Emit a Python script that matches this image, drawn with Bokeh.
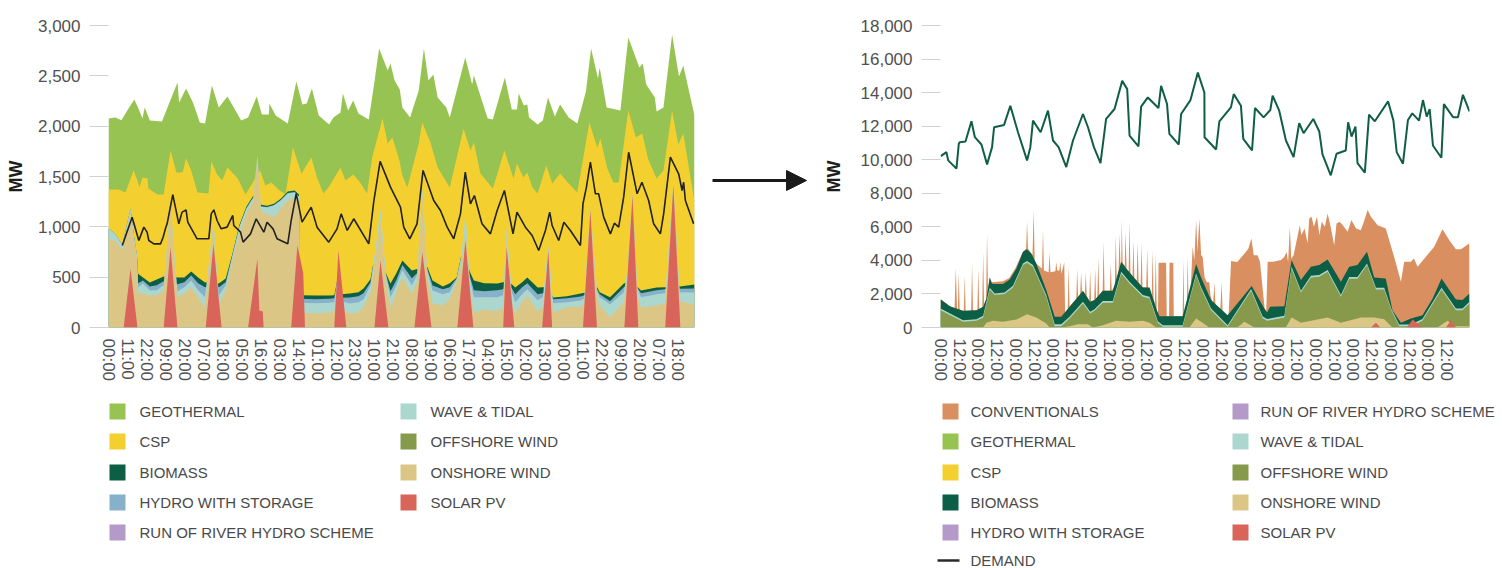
from bokeh.plotting import figure
from bokeh.layouts import row, column
from bokeh.models import Range1d, FixedTicker, NumeralTickFormatter, Arrow, NormalHead
from bokeh.embed import file_html
from bokeh.resources import INLINE
from bokeh.core.properties import value

FONT = "Liberation Sans"

C_CONV = "#d98f5f"
C_GEO = "#97c353"
C_CSP = "#f4cf30"
C_BIO = "#0c5f44"
C_HYDRO = "#87b0ca"
C_ROR = "#b39ac9"
C_WAVE = "#acd7cf"
C_OFF = "#879a4c"
C_ON = "#dcc686"
C_SOLAR = "#d9645a"

# ---------------- LEFT CHART DATA (x = hour index, values = MW, stacked tops) ----------------
left_tick_labels = ["00:00", "11:00", "22:00", "09:00", "20:00", "07:00", "18:00", "05:00",
                    "16:00", "03:00", "14:00", "01:00", "12:00", "23:00", "10:00", "21:00",
                    "08:00", "19:00", "06:00", "17:00", "04:00", "15:00", "02:00", "13:00",
                    "00:00", "11:00", "22:00", "09:00", "20:00", "07:00", "18:00"]

geo_x = [0, 4, 7.5, 11.6, 15, 18, 19.7, 21, 23, 24,
         31, 40, 41, 45, 49, 53, 56, 60, 64, 69,
         77, 81, 86, 89, 93, 93.4, 97, 104, 109, 112.5,
         115, 118, 122, 128, 130.5, 134.6, 136, 139, 142, 145,
         151, 154, 157, 162, 163.6, 166, 169, 170.5, 175, 180,
         183, 185.6, 188.5, 191, 196, 198, 207, 211, 212, 220,
         223, 230, 234, 237, 238, 241, 243, 244, 249, 252,
         255, 259, 262, 267, 272, 277, 280, 284, 285, 289,
         297, 301.6, 308, 310, 312, 317, 318, 322, 327, 331,
         333.5, 340]
geothermal_top_l = [2076, 2086, 2060, 2175, 2265, 2150, 2076, 2185, 2100, 2056,
                    2046, 2434, 2235, 2374, 2235, 2036, 2026, 2404, 2185, 2295,
                    2056, 2086, 2295, 2116, 2116, 2225, 2106, 2026, 2444, 2215,
                    2225, 2374, 2106, 2016, 2086, 2135, 2325, 2156, 2255, 2126,
                    2066, 2404, 2772, 2553, 2623, 2454, 2364, 2185, 2086, 2354,
                    2772, 2454, 2513, 2285, 2185, 2086, 2682, 2414, 2503, 2076,
                    2066, 2483, 2165, 2165, 2325, 2205, 2215, 2086, 2016, 2056,
                    2285, 2096, 2215, 2086, 2026, 2344, 2772, 2473, 2583, 2185,
                    2156, 2881, 2583, 2623, 2414, 2285, 2146, 2185, 2911, 2494,
                    2603, 2106]

csp_x = [0, 5.8, 9.9, 14.5, 16.8, 18, 19.7, 22.6, 23.2, 28.4,
         32, 36, 39.4, 43, 45, 48, 51.6, 58, 59.7, 63,
         66, 69, 75, 79.5, 88, 91, 94.5, 98.6, 102.7, 107,
         112, 117.7, 121, 124.7, 127.6, 134.6, 137.5, 142, 146, 150,
         153, 159, 162, 164.7, 168.8, 170.5, 173.4, 180, 182, 186.8,
         191, 198, 206, 210, 212, 215.8, 223, 229.7, 235, 237,
         240.7, 243, 246, 249, 254, 257.5, 262, 267, 272, 279,
         283.6, 285.4, 289.4, 293, 296, 301.6, 306, 309.7, 313, 318,
         322, 327, 330.6, 333.5, 340]
csp_top_l = [1371, 1371, 1341, 1560, 1460, 1390, 1490, 1480, 1380, 1321,
             1321, 1758, 1540, 1540, 1679, 1560, 1341, 1331, 1649, 1520,
             1460, 1589, 1480, 1321, 1560, 1410, 1440, 1371, 1321, 1788,
             1530, 1689, 1490, 1331, 1390, 1589, 1460, 1520, 1440, 1331,
             1689, 2076, 1828, 1888, 1659, 1510, 1391, 1828, 2036, 1838,
             1589, 1391, 1977, 1758, 1838, 1530, 1381, 1758, 1480, 1629,
             1490, 1540, 1391, 1331, 1609, 1430, 1530, 1430, 1341, 2036,
             1788, 1878, 1579, 1440, 1440, 2156, 1888, 1927, 1679, 1480,
             1560, 2156, 1818, 1927, 1250]

low_x = [0, 4, 8, 12.8, 15, 16.5, 17.2, 20, 24, 28,
         32, 36, 40, 44, 48, 52, 56, 60.9, 64, 68,
         72, 76, 80, 84, 86.4, 88.5, 92, 96, 100, 104,
         108, 110.5, 111.5, 120, 128, 131, 132.5, 135, 140, 145,
         148, 152, 153.5, 157.8, 161, 163.6, 167, 170.5, 176, 179,
         182.1, 185, 188, 194, 198, 202, 204.5, 207.1, 209.5, 212,
         218, 225.6, 229, 231, 234, 236, 240, 243, 249, 252,
         255.2, 258, 266, 274, 276, 279.6, 283.5, 285, 291, 299,
         301, 304, 307, 309, 318, 323, 327.7, 331.5, 340]
biomass_top_l = [983, 930, 820, 1180, 880, 720, 535, 497, 447, 477,
                 507, 520, 497, 497, 556, 497, 447, 455, 437, 487,
                 740, 1020, 1200, 1310, 1310, 1220, 1210, 1230, 1280, 1350,
                 1360, 1320, 320, 318, 318, 320, 450, 330, 338, 350,
                 387, 480, 620, 660, 540, 437, 540, 665, 566, 580,
                 590, 600, 467, 407, 440, 497, 700, 760, 560, 467,
                 440, 437, 450, 470, 430, 397, 450, 497, 397, 400,
                 400, 298, 310, 338, 345, 350, 400, 351, 301, 437,
                 450, 440, 400, 367, 397, 400, 405, 407, 427]
hydro_top_l = [983, 930, 820, 1180, 880, 720, 440, 467, 407, 420,
               460, 480, 430, 450, 517, 440, 400, 420, 400, 450,
               725, 1005, 1185, 1295, 1295, 1205, 1197, 1217, 1266, 1336,
               1345, 1305, 285, 280, 285, 290, 445, 295, 298, 310,
               340, 450, 610, 650, 530, 360, 470, 620, 490, 540,
               560, 580, 417, 380, 400, 490, 690, 750, 520, 370,
               360, 370, 380, 420, 390, 330, 400, 440, 330, 340,
               360, 280, 290, 308, 320, 340, 380, 330, 260, 400,
               420, 420, 390, 340, 370, 380, 390, 385, 388]
wave_top_l = [983, 930, 820, 1180, 880, 720, 400, 437, 367, 370,
              420, 1230, 360, 400, 467, 370, 300, 1060, 320, 420,
              715, 1000, 1180, 1290, 1710, 1200, 1192, 1212, 1261, 1331,
              1340, 1300, 245, 240, 245, 250, 440, 260, 238, 250,
              280, 420, 600, 1182, 520, 300, 420, 570, 420, 520,
              1391, 560, 367, 330, 350, 480, 680, 1142, 500, 300,
              300, 300, 320, 993, 350, 250, 330, 380, 270, 300,
              815, 240, 250, 268, 290, 1182, 360, 300, 230, 350,
              560, 1331, 380, 300, 330, 340, 1430, 350, 348]
onshore_top_l = [884, 860, 770, 1130, 850, 700, 340, 338, 318, 318,
                 367, 1200, 298, 338, 397, 298, 199, 1000, 219, 367,
                 665, 934, 1132, 1250, 1690, 1150, 1132, 1093, 1182, 1261,
                 1290, 1250, 150, 140, 150, 160, 360, 180, 139, 150,
                 200, 350, 536, 1063, 450, 199, 350, 497, 338, 450,
                 1331, 500, 238, 218, 280, 467, 600, 963, 400, 149,
                 180, 159, 200, 894, 250, 139, 250, 318, 159, 200,
                 685, 149, 200, 208, 230, 1170, 300, 220, 103, 250,
                 500, 1290, 300, 199, 218, 240, 1400, 260, 228]

solar_x_l = [0, 8.8, 12.8, 16.8, 32, 36, 40, 56.4, 60.9, 65.6,
             81, 86.4, 87.5, 89.5, 90, 106, 109.6, 113, 114, 131,
             133.4, 138, 154.3, 157.8, 162.4, 177.5, 182.1, 187.4, 202.4, 207.1,
             211.7, 229, 231, 235.5, 251.6, 255.2, 257.4, 275.3, 279.6, 283.4,
             299.3, 304, 307.4, 323, 327.7, 331.8, 340]
solar_l = [0, 0, 583, 0, 0, 798, 0, 0, 831, 0,
           0, 685, 170, 160, 0, 0, 815, 540, 0, 0,
           765, 0, 0, 665, 0, 0, 748, 0, 0, 864,
           0, 0, 798, 0, 0, 765, 0, 0, 1162, 0,
           0, 1311, 0, 0, 1411, 0, 0]

demand_x_l = [8, 13.7, 17.6, 20.5, 22.4, 23.4, 26.3, 30.2, 31.7, 33,
              34, 37.3, 40.8, 42.7, 45, 46, 51.4, 58.2, 59.6, 61.1,
              63, 65.4, 68.8, 72.1, 72.7, 76.6, 78.1, 82.4, 85.7, 90.1,
              92, 95.5, 97.8, 104, 106, 108.9, 112.3, 117.6, 121, 127.8,
              132.6, 135, 138.5, 142.3, 151, 153.9, 157.6, 163.6, 169.4, 171.3,
              174.8, 179, 182.5, 188.7, 192.6, 196.5, 200.3, 204.2, 207, 210,
              212.3, 216.7, 221.6, 225.5, 229.7, 234.7, 237, 241.9, 245.8, 249.6,
              253.5, 256, 257.4, 261.2, 264.2, 268, 273.8, 275.3, 277.3, 279.6,
              282.5, 284.4, 287.3, 291.2, 293.5, 296, 298.9, 301.8, 306.7, 309.5,
              313.4, 316.3, 320.2, 322.1, 326, 330.8, 332.8, 333.7, 334.7, 339.5]
demand_l = [815, 1096, 864, 997, 947, 864, 831, 831, 897, 980,
            1030, 1320, 1030, 1146, 1169, 1046, 881, 881, 1129, 1169,
            1063, 980, 997, 1113, 1013, 947, 848, 930, 1080, 947,
            1046, 980, 881, 831, 1063, 1330, 1046, 1195, 997, 848,
            980, 1129, 964, 1080, 831, 1250, 1650, 1394, 1195, 997,
            881, 1030, 1560, 1262, 1162, 997, 881, 1129, 1543, 1229,
            1311, 1030, 930, 1162, 1361, 930, 1146, 997, 914, 765,
            964, 1146, 1013, 864, 1046, 964, 815, 1229, 1394, 1642,
            1328, 1328, 1096, 930, 1036, 997, 1295, 1741, 1328, 1443,
            1262, 1030, 930, 1129, 1692, 1527, 1361, 1443, 1262, 1030]

# ---------------- RIGHT CHART DATA (x = hours, values = MW, stacked tops) ----------------
right_tick_labels = ["00:00", "12:00", "00:00", "12:00", "00:00", "12:00", "00:00",
                     "12:00", "00:00", "12:00", "00:00", "12:00", "00:00", "12:00",
                     "00:00", "12:00", "00:00", "12:00", "00:00", "12:00", "00:00",
                     "12:00", "00:00", "12:00", "00:00", "12:00", "00:00", "12:00"]

conv_x = [0, 6, 9, 9.8, 10.6, 11.1, 11.7, 12.3, 14.9, 15.5,
          16.1, 19.6, 20.2, 20.8, 23.6, 24.2, 24.8, 26.7, 27.3, 27.9,
          29.2, 29.8, 30.4, 31.5, 33, 40, 44, 48, 52.8, 54.8,
          55.4, 56, 58.9, 59.6, 60.3, 61.3, 65, 65.6, 66.2, 69.2,
          69.8, 70.4, 73.5, 74.1, 74.7, 76.1, 76.7, 77.3, 78.5, 79.2,
          79.8, 81.4, 82, 82.6, 86.9, 87.5, 88.1, 89.4, 90, 90.6,
          92.4, 93, 93.6, 95.2, 95.8, 96.4, 98.4, 99, 99.6, 100.4,
          101, 101.6, 103.8, 104.4, 105, 108.4, 109, 109.6, 111.6, 112.2,
          112.8, 114, 114.6, 115.2, 115.7, 116, 116.6, 117.9, 118.5, 119.1,
          120.4, 121, 121.6, 122.9, 123.5, 124.1, 125.6, 126.2, 126.8, 128.1,
          128.7, 129.3, 131.7, 132.3, 132.9, 135.2, 135.8, 136.4, 137.2, 137.8,
          138.4, 139.2, 139.6, 144.4, 144.8, 146.3, 146.6, 149, 149.3, 155,
          155.5, 156, 157.7, 158.2, 158.8, 160, 161.4, 162.5, 163.6, 164.5,
          165.7, 166.8, 167.8, 169, 170.5, 172, 172.8, 174.5, 175.3, 176,
          179, 180, 180.6, 183.8, 184.5, 186, 190, 194.5, 197, 199,
          200.5, 203, 204.5, 206, 207.5, 208.5, 209.4, 213, 218, 220,
          221.5, 222.5, 223.6, 224.5, 226, 228, 230, 231, 233, 235,
          236, 237.5, 239, 241, 242.5, 244, 246, 247.8, 249.5, 252,
          253.5, 255.5, 257.5, 260.6, 263, 266, 269, 271, 273.4, 275.5,
          279.8, 285, 290.4, 294.7, 296.8, 301.1, 303, 305.4, 316, 321.3,
          325.6, 329.9, 333.1, 338.6]
conventionals_top_r = [1680, 1274, 1100, 3560, 1050, 1050, 3300, 1000, 990, 3100,
                       990, 1010, 3800, 1010, 1040, 3520, 1060, 1200, 4500, 1350,
                       1700, 5600, 2300, 2985, 2700, 2750, 2950, 3550, 4520, 4700,
                       6300, 4700, 4300, 7000, 4000, 3821, 3500, 5850, 3400, 3300,
                       4450, 3300, 3350, 3900, 3400, 3400, 3900, 3200, 3600, 3900,
                       700, 1000, 3700, 1234, 1700, 3500, 1750, 1950, 3300, 2100,
                       2000, 3300, 1850, 1550, 3400, 1550, 1632, 3500, 1700, 1800,
                       4160, 1900, 2189, 5100, 2189, 2189, 3800, 2189, 2500, 5500,
                       2800, 3400, 5600, 3700, 3920, 6400, 3850, 3650, 5700, 3500,
                       3300, 6300, 3100, 3000, 5200, 2900, 2800, 5100, 2700, 2500,
                       5000, 2400, 2388, 4700, 2388, 1900, 4600, 1700, 1400, 4400,
                       1050, 800, 3860, 3860, 677, 677, 3860, 3860, 677, 677,
                       4100, 900, 1300, 4200, 1500, 2000, 4816, 4000, 6400, 4500,
                       6500, 4318, 4200, 3000, 2700, 2700, 1900, 1400, 2700, 1300,
                       900, 2700, 800, 736, 900, 3960, 3900, 4400, 4700, 5300,
                       4300, 4300, 3900, 2500, 1100, 1000, 3920, 3920, 4020, 4200,
                       4500, 3900, 6000, 4100, 4300, 5200, 6100, 5500, 5900, 5000,
                       6500, 6600, 6000, 6600, 5500, 6300, 6000, 6800, 6100, 4900,
                       6200, 6300, 6100, 5700, 6400, 5900, 5800, 6300, 7000, 6600,
                       6100, 5900, 4200, 2726, 3920, 3920, 4119, 3622, 4816, 5851,
                       5214, 4657, 4657, 5015]

bio_x_r = [0, 6, 14.5, 23, 27.3, 29.4, 31.5, 32.6, 33.6, 40,
           44.3, 48.6, 52.8, 55.4, 58.1, 61.3, 67.7, 73.1, 77.3, 82.6,
           91.2, 95.8, 98.6, 103.9, 110.3, 115.7, 118.9, 125.2, 129.5, 133.8,
           138.5, 140.2, 155, 163.6, 166.8, 173.2, 183.8, 199.2, 200.9, 207.3,
           209, 211, 220.1, 224.7, 230.7, 237.1, 242.4, 247.8, 256.3, 261.6,
           266.9, 273, 277.6, 285, 289.3, 294.7, 301.1, 308.5, 315, 320.7,
           329.9, 334.1, 338.6]
biomass_top_r = [1680, 1274, 995, 1035, 1234, 1731, 2985, 2667, 2587, 2587,
                 2866, 3522, 4517, 4657, 4418, 3821, 2229, 637, 637, 1234,
                 2189, 1532, 1632, 2189, 2189, 3920, 3522, 2826, 2388, 2388,
                 1035, 677, 677, 3781, 2985, 1632, 736, 2468, 2189, 1134,
                 900, 1230, 1270, 4020, 2826, 3622, 3721, 4060, 2726, 3622,
                 3721, 4517, 2985, 2925, 1035, 279, 537, 736, 1731, 2925,
                 1672, 1632, 2030]

off_x_r = [0, 14.5, 23, 27.3, 31.5, 34.7, 41, 46.4, 52.8, 55.4,
           59.2, 67.7, 73.1, 77.3, 82.6, 91.2, 95.8, 98.6, 103.9, 110.3,
           115.7, 121, 129.5, 133.8, 139.1, 142.3, 155, 163.6, 166.8, 173.2,
           183.8, 198.8, 206.2, 209, 220.1, 224.7, 230.7, 237.1, 242.4, 247.8,
           256.3, 261.6, 266.9, 273, 278.7, 284, 288.7, 293.6, 301.1, 308.5,
           320.7, 329.9, 334.1, 338.6]
wave_top_r = [1135, 438, 498, 697, 2369, 2030, 2090, 2488, 3821, 3961,
              3722, 1931, 200, 200, 637, 1533, 936, 1095, 1573, 1573,
              3324, 2727, 1931, 1831, 379, 140, 140, 3224, 2400, 1135,
              140, 2289, 657, 500, 700, 3622, 2190, 3085, 3125, 3424,
              1931, 3005, 3005, 3821, 2369, 2369, 1095, 180, 180, 500,
              2369, 1135, 1135, 1532]
offshore_top_r = [1035, 338, 398, 597, 2269, 1930, 1990, 2388, 3721, 3861,
                  3622, 1831, 80, 80, 537, 1433, 836, 995, 1473, 1473,
                  3224, 2627, 1831, 1731, 279, 40, 40, 3124, 2300, 1035,
                  40, 2189, 557, 400, 600, 3522, 2090, 2985, 3025, 3324,
                  1831, 2905, 2905, 3721, 2269, 2269, 995, 80, 80, 400,
                  2269, 1035, 1035, 1432]

on_x_r = [0, 27.3, 29.4, 33.6, 40, 48.6, 55.4, 61.3, 67.7, 69.8,
          78, 82.6, 88, 94.3, 97.5, 103.9, 112.4, 121, 129.5, 133.8,
          138, 159.3, 163.6, 166.8, 172, 190, 194.5, 199, 201, 221,
          224.7, 230.7, 247.8, 256.3, 269.1, 277.6, 284, 289.3, 318, 324.6,
          329, 338.6]
onshore_top_r = [0, 0, 279, 398, 338, 478, 796, 597, 239, 0,
                 0, 80, 199, 199, 0, 139, 398, 338, 398, 279,
                 0, 0, 537, 338, 0, 0, 338, 100, 0, 0,
                 597, 279, 597, 279, 597, 597, 497, 0, 0, 398,
                 80, 80]

solar_x_r = [0, 275.5, 278.7, 281.5, 298.5, 302.2, 308.5, 323.5, 326.7, 330, 338.6]
solar_r = [0, 0, 279, 0, 0, 478, 0, 0, 438, 0, 0]

demand_x_r = [0.2, 3.8, 4.9, 10.2, 11.7, 12.3, 16, 19.8, 22, 26.2,
              29.8, 33, 34.3, 40.7, 44.7, 49.6, 55.4, 57.5, 59.2, 64.1,
              68.8, 72, 75.6, 80.5, 84.8, 91.2, 94.4, 98.2, 102.4, 106,
              111.4, 116.3, 119.5, 121, 126.7, 128.4, 132.7, 139.5, 141.2, 145,
              146.5, 152.5, 154, 160, 164.7, 168.9, 169, 176.4, 178.5, 185.9,
              187.7, 192.3, 193.8, 199.4, 201.3, 206.8, 211.1, 212.6, 216.8, 221.1,
              226, 229.6, 232.4, 238.6, 242.4, 244.5, 249.8, 253.5, 259.4, 260.9,
              263.1, 265.6, 266.9, 271.6, 274.3, 278, 286.5, 289.9, 292, 296,
              299.2, 302, 306.3, 308.8, 311.2, 313.1, 315.2, 320.6, 322.2, 328.2,
              331.2, 334.4, 338.6]
demand_r = [10217, 10454, 9960, 9467, 10948, 11047, 11086, 12291, 11343, 10908,
            9723, 10750, 11936, 12074, 13219, 11639, 9960, 10750, 12331, 11639,
            12923, 11145, 10750, 9565, 11145, 12726, 11936, 10750, 9802, 12429,
            13022, 14700, 14207, 11442, 10790, 13160, 13713, 13081, 14404, 13318,
            11540, 10908, 12726, 13555, 15194, 14009, 11343, 10612, 12291, 13121,
            13911, 13219, 11244, 10553, 13081, 12528, 12963, 13812, 12923, 11145,
            10158, 12173, 11580, 12429, 11699, 10316, 9072, 10356, 10553, 12232,
            11383, 11975, 9802, 9230, 12686, 12291, 13476, 12331, 10454, 9763,
            12370, 12765, 12331, 13555, 12568, 13022, 10849, 10118, 13318, 12528,
            12528, 13871, 12884]

# ---------------- LEGENDS ----------------
left_legend_names = ["GEOTHERMAL", "CSP", "BIOMASS", "HYDRO WITH STORAGE",
                     "RUN OF RIVER HYDRO SCHEME", "WAVE & TIDAL", "OFFSHORE WIND",
                     "ONSHORE WIND", "SOLAR PV"]
left_legend_colors = [C_GEO, C_CSP, C_BIO, C_HYDRO, C_ROR, C_WAVE, C_OFF, C_ON, C_SOLAR]
right_legend_names = ["CONVENTIONALS", "GEOTHERMAL", "CSP", "BIOMASS", "HYDRO WITH STORAGE",
                      "RUN OF RIVER HYDRO SCHEME", "WAVE & TIDAL", "OFFSHORE WIND",
                      "ONSHORE WIND", "SOLAR PV"]
right_legend_colors = [C_CONV, C_GEO, C_CSP, C_BIO, C_ROR, C_ROR, C_WAVE, C_OFF, C_ON, C_SOLAR]


def make_chart(width, bl, br, xmax, ymax, yticks, xticks, xlabels, mw_standoff):
    p = figure(width=width, height=390, x_range=Range1d(0, xmax), y_range=Range1d(0, ymax),
               toolbar_location=None, output_backend="svg", frame_align=False,
               min_border_left=bl, min_border_right=br, min_border_top=25, min_border_bottom=63)
    p.grid.visible = False
    p.outline_line_color = None
    ya = p.yaxis[0]
    ya.ticker = FixedTicker(ticks=yticks)
    ya.formatter = NumeralTickFormatter(format="0,0")
    ya.axis_line_color = None
    ya.major_tick_in = 0
    ya.major_tick_out = 19
    ya.major_tick_line_color = "#d0d0d0"
    ya.minor_tick_line_color = None
    ya.major_label_standoff = 9
    ya.major_label_text_font = FONT
    ya.major_label_text_font_size = "17px"
    ya.major_label_text_color = "#505050"
    ya.axis_label = "MW"
    ya.axis_label_text_font = FONT
    ya.axis_label_text_font_size = "18px"
    ya.axis_label_text_font_style = "bold"
    ya.axis_label_text_color = "#1e1e1e"
    ya.axis_label_standoff = mw_standoff
    xa = p.xaxis[0]
    xa.ticker = FixedTicker(ticks=xticks)
    xa.major_label_overrides = {t: lab for t, lab in zip(xticks, xlabels)}
    xa.major_label_orientation = "vertical"
    xa.axis_line_color = None
    xa.major_tick_line_color = None
    xa.minor_tick_line_color = None
    xa.major_label_standoff = 5
    xa.major_label_text_font = FONT
    xa.major_label_text_font_size = "17px"
    xa.major_label_text_color = "#505050"
    return p


# left chart
pl = make_chart(700, 108, 6, 340, 3000, list(range(0, 3001, 500)),
                [11 * i for i in range(len(left_tick_labels))], left_tick_labels, 9)
pl.varea(x=geo_x, y1=0, y2=geothermal_top_l, fill_color=C_GEO)
pl.varea(x=csp_x, y1=0, y2=csp_top_l, fill_color=C_CSP)
pl.varea(x=low_x, y1=0, y2=biomass_top_l, fill_color=C_BIO)
pl.varea(x=low_x, y1=0, y2=hydro_top_l, fill_color=C_HYDRO)
pl.varea(x=low_x, y1=0, y2=wave_top_l, fill_color=C_WAVE)
pl.varea(x=low_x, y1=0, y2=onshore_top_l, fill_color=C_ON)
pl.varea(x=solar_x_l, y1=0, y2=solar_l, fill_color=C_SOLAR)
pl.line(x=demand_x_l, y=demand_l, line_color="#222222", line_width=1.6)

# right chart
pr = make_chart(680, 119, 31, 338.6, 18000, list(range(0, 18001, 2000)),
                [12 * i for i in range(len(right_tick_labels))], right_tick_labels, 14)
pr.varea(x=conv_x, y1=0, y2=conventionals_top_r, fill_color=C_CONV)
pr.varea(x=bio_x_r, y1=0, y2=biomass_top_r, fill_color=C_BIO)
pr.varea(x=off_x_r, y1=0, y2=wave_top_r, fill_color=C_WAVE)
pr.varea(x=off_x_r, y1=0, y2=offshore_top_r, fill_color=C_OFF)
pr.varea(x=on_x_r, y1=0, y2=onshore_top_r, fill_color=C_ON)
pr.varea(x=solar_x_r, y1=0, y2=solar_r, fill_color=C_SOLAR)
pr.line(x=demand_x_r, y=demand_r, line_color="#0f5e45", line_width=2)


def legend_fig(width, x0, x1):
    f = figure(width=width, height=178, x_range=Range1d(x0, x1), y_range=Range1d(568, 390),
               toolbar_location=None, output_backend="svg", x_axis_type=None, y_axis_type=None,
               min_border=0, frame_align=False)
    f.grid.visible = False
    f.outline_line_color = None
    return f


def add_items(f, names, colors, sq_x, tx_x, ys):
    f.rect(x=[sq_x] * len(names), y=ys, width=16, height=16, fill_color=colors, line_color=None)
    f.text(x=[tx_x] * len(names), y=ys, text=names, text_font=value(FONT),
           text_font_size=value("15px"), text_baseline="middle", text_align="left",
           text_color="#4a4a4a")


rows = [411, 441, 472, 502, 532]
ll = legend_fig(700, 0, 700)
add_items(ll, left_legend_names[:5], left_legend_colors[:5], 117, 139, rows)
add_items(ll, left_legend_names[5:], left_legend_colors[5:], 408, 430, rows[:4])

lr = legend_fig(680, 820, 1500)
add_items(lr, right_legend_names[:5], right_legend_colors[:5], 950, 970, rows)
add_items(lr, right_legend_names[5:], right_legend_colors[5:], 1240, 1260, rows)
lr.line(x=[937, 959], y=[560, 560], line_color="#2a2a2a", line_width=2.5)
lr.text(x=[970], y=[560], text=["DEMAND"], text_font=value(FONT), text_font_size=value("15px"),
        text_baseline="middle", text_align="left", text_color="#4a4a4a")

# arrow between charts
pm = figure(width=120, height=568, x_range=Range1d(700, 820), y_range=Range1d(568, 0),
            toolbar_location=None, output_backend="svg", x_axis_type=None, y_axis_type=None,
            min_border=0, frame_align=False)
pm.grid.visible = False
pm.outline_line_color = None
pm.add_layout(Arrow(x_start=712, y_start=180, x_end=806, y_end=180, line_width=3,
                    line_color="#1a1a1a",
                    end=NormalHead(size=20, fill_color="#1a1a1a", line_color="#1a1a1a")))

layout = row(column(pl, ll), pm, column(pr, lr))

open("out.html", "w").write(file_html(layout, INLINE))
